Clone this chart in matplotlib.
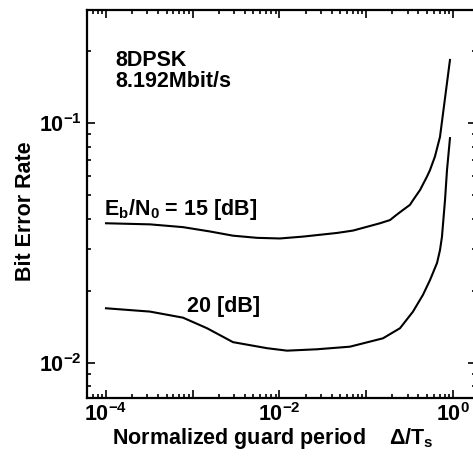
import matplotlib
matplotlib.use("Agg")
import matplotlib.pyplot as plt
from matplotlib.ticker import FixedLocator, FixedFormatter, LogLocator, NullFormatter

plt.rcParams["font.family"] = ["Liberation Sans", "DejaVu Sans"]
plt.rcParams["font.weight"] = "bold"
plt.rcParams["axes.labelweight"] = "bold"
plt.rcParams["mathtext.fontset"] = "custom"
plt.rcParams["mathtext.rm"] = "Liberation Sans:bold"
plt.rcParams["mathtext.bf"] = "Liberation Sans:bold"

# Bit error rate vs normalized guard period, 8DPSK at 8.192 Mbit/s
guard_15db = [1.0e-4, 3.21e-4, 7.73e-4, 1.58e-3, 2.91e-3, 5.51e-3, 1.01e-2, 1.87e-2,
              4.60e-2, 7.03e-2, 0.110, 0.144, 0.188, 0.223, 0.265, 0.319, 0.346,
              0.417, 0.501, 0.543, 0.619, 0.708, 0.923]
ber_15db = [0.0383, 0.0379, 0.0369, 0.0354, 0.0340, 0.0333, 0.0331, 0.0337,
            0.0349, 0.0357, 0.0373, 0.0383, 0.0395, 0.0415, 0.0435, 0.0457, 0.0478,
            0.0527, 0.0599, 0.0638, 0.0726, 0.0877, 0.1836]

guard_20db = [1.0e-4, 3.21e-4, 7.73e-4, 1.46e-3, 2.91e-3, 7.18e-3, 1.22e-2, 2.70e-2,
              6.50e-2, 0.156, 0.245, 0.346, 0.451, 0.543, 0.655, 0.708, 0.746, 0.809,
              0.853, 0.923]
ber_20db = [0.01694, 0.01641, 0.01548, 0.01399, 0.01224, 0.01155, 0.01128, 0.01143,
            0.01172, 0.01270, 0.01399, 0.01641, 0.01928, 0.0222, 0.02618, 0.0296,
            0.0336, 0.0478, 0.0638, 0.0867]

xtick_values = [1e-4, 1e-3, 1e-2, 1e-1, 1e0]
xtick_labels = [r"$\mathregular{10^{-4}}$", "", r"$\mathregular{10^{-2}}$", "",
                r"$\mathregular{10^{0}}$"]
ytick_values = [1e-2, 1e-1]
ytick_labels = [r"$\mathregular{10^{-2}}$", r"$\mathregular{10^{-1}}$"]

fig = plt.figure(figsize=(4.73, 4.58), dpi=100)
ax = fig.add_axes([0.1839, 0.131, 0.8224, 0.8472])

ax.plot(guard_15db, ber_15db, color="black", lw=1.5, solid_joinstyle="round")
ax.plot(guard_20db, ber_20db, color="black", lw=1.5, solid_joinstyle="round")

ax.set_xscale("log")
ax.set_yscale("log")
ax.set_xlim(10 ** -4.219, 10 ** 0.265)
ax.set_ylim(10 ** -2.145, 10 ** -0.528)

ax.xaxis.set_major_locator(FixedLocator(xtick_values))
ax.xaxis.set_major_formatter(FixedFormatter(xtick_labels))
ax.xaxis.set_minor_locator(LogLocator(base=10, subs=range(2, 10), numticks=20))
ax.xaxis.set_minor_formatter(NullFormatter())
ax.yaxis.set_major_locator(FixedLocator(ytick_values))
ax.yaxis.set_major_formatter(FixedFormatter(ytick_labels))
ax.yaxis.set_minor_locator(LogLocator(base=10, subs=range(2, 10), numticks=20))
ax.yaxis.set_minor_formatter(NullFormatter())

ax.tick_params(which="both", direction="in", top=True, right=True, width=1.2,
               labelsize=15.5, pad=4)
ax.tick_params(which="major", length=5.5)
ax.tick_params(which="minor", length=2.8)
for sp in ax.spines.values():
    sp.set_linewidth(1.6)

ax.set_xlabel(r"Normalized guard period    Δ/T$_\mathregular{s}$", fontsize=15.5)
ax.xaxis.set_label_coords(0.478, -0.072)
ax.set_ylabel("Bit Error Rate", fontsize=15.5)
ax.yaxis.set_label_coords(-0.13, 0.482)

ax.text(1.27e-4, 0.173, "8DPSK", fontsize=15.5, va="baseline", ha="left")
ax.text(1.27e-4, 0.1415, "8.192Mbit/s", fontsize=15.5, va="baseline", ha="left")
ax.text(9.6e-5, 0.0415, r"E$_\mathregular{b}$/N$_\mathregular{0}$ = 15 [dB]",
        fontsize=15.5, va="baseline", ha="left")
ax.text(8.5e-4, 0.01637, "20 [dB]", fontsize=15.5, va="baseline", ha="left")

fig.savefig("out.png", dpi=100)
